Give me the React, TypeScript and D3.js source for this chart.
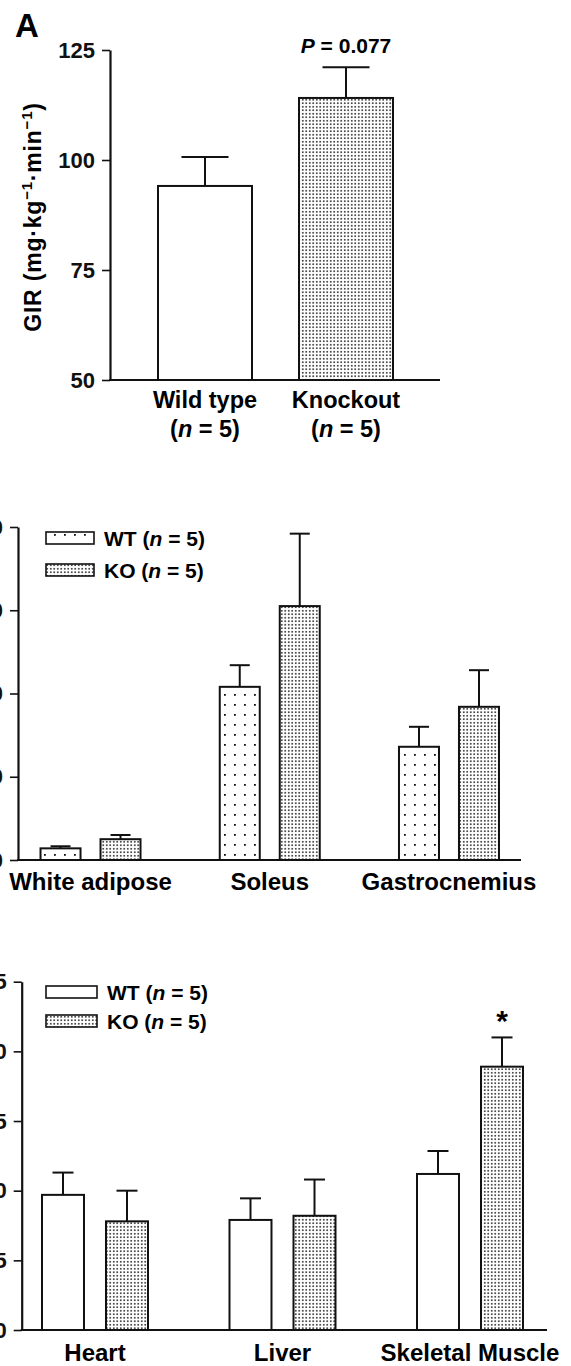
import React, { useEffect, useRef } from 'react';
import * as d3 from 'd3';

// Panel A: glucose infusion rate
const girGroups = ['Wild type', 'Knockout'];
const girMeans = [94.1, 114.1];
const girSem = [6.6, 7.0];
const girTicks = [50, 75, 100, 125];

// Panel B: tissue uptake, dotted WT
const groupsB = ['White adipose', 'Soleus', 'Gastrocnemius'];
const wtB = [1.4, 20.8, 13.6];
const wtBSem = [0.25, 2.6, 2.4];
const koB = [2.5, 30.5, 18.4];
const koBSem = [0.5, 8.7, 4.4];
const ticksB = [0, 10, 20, 30, 40];

// Panel C: organ uptake, plain WT
const groupsC = ['Heart', 'Liver', 'Skeletal Muscle'];
const wtC = [9.7, 7.9, 11.2];
const wtCSem = [1.6, 1.55, 1.65];
const koC = [7.8, 8.2, 18.9];
const koCSem = [2.2, 2.6, 2.1];
const ticksC = [0, 5, 10, 15, 20, 25];

const seriesNames = ['WT', 'KO'];
const FONT = "'Liberation Sans', Arial, Helvetica, sans-serif";

const App = () => {
  const svgRef = useRef(null);

  useEffect(() => {
    if (!svgRef.current) return;
    const svg = d3.select(svgRef.current);
    svg.selectAll('*').remove();
    svg.attr('font-family', FONT).attr('font-weight', 'bold');

    // patterns
    const defs = svg.append('defs');
    const ko = defs.append('pattern').attr('id', 'koDots')
      .attr('patternUnits', 'userSpaceOnUse').attr('width', 3.5).attr('height', 3.5);
    ko.append('rect').attr('width', 3.5).attr('height', 3.5).attr('fill', '#fff');
    ko.append('circle').attr('cx', 1.75).attr('cy', 1.75).attr('r', 0.9).attr('fill', '#111');
    const wt = defs.append('pattern').attr('id', 'wtDots')
      .attr('patternUnits', 'userSpaceOnUse').attr('width', 10).attr('height', 10);
    wt.append('rect').attr('width', 10).attr('height', 10).attr('fill', '#fff');
    wt.append('rect').attr('x', 4).attr('y', 4).attr('width', 1.8).attr('height', 1.8).attr('fill', '#111');

    const styleAxis = (g, fontSize) => {
      g.select('.domain').attr('stroke', '#111').attr('stroke-width', 2.2);
      g.selectAll('.tick line').attr('stroke', '#111').attr('stroke-width', 1.6);
      g.selectAll('.tick text').attr('fill', '#111').style('font-size', `${fontSize}px`)
        .style('font-family', FONT).style('font-weight', 'bold');
    };

    const errorBar = (g, cx, yTop, yErr, capW) => {
      g.append('line').attr('x1', cx).attr('x2', cx).attr('y1', yTop).attr('y2', yErr)
        .attr('stroke', '#111').attr('stroke-width', 2);
      g.append('line').attr('x1', cx - capW / 2).attr('x2', cx + capW / 2).attr('y1', yErr).attr('y2', yErr)
        .attr('stroke', '#111').attr('stroke-width', 2);
    };

    // ---------- Panel A ----------
    {
      const g = svg.append('g');
      const y = d3.scaleLinear().domain([50, 125]).range([380, 50]);
      const x = d3.scaleBand().domain(girGroups).range([111, 440]).padding(1 / 3);

      g.append('text').attr('x', 15).attr('y', 37).style('font-size', '33px').text('A');

      g.append('g').attr('transform', 'translate(110,0)')
        .call(d3.axisLeft(y).tickValues(girTicks).tickSize(8).tickPadding(7).tickSizeOuter(0))
        .call(ax => styleAxis(ax, 22));
      g.append('line').attr('x1', 109).attr('x2', 440).attr('y1', y(50)).attr('y2', y(50))
        .attr('stroke', '#111').attr('stroke-width', 2);

      girGroups.forEach((name, i) => {
        const x0 = x(name);
        const bw = x.bandwidth();
        g.append('rect').attr('x', x0).attr('y', y(girMeans[i])).attr('width', bw)
          .attr('height', y(50) - y(girMeans[i]))
          .attr('fill', i === 0 ? '#fff' : 'url(#koDots)').attr('stroke', '#111').attr('stroke-width', 2);
        errorBar(g, x0 + bw / 2, y(girMeans[i]), y(girMeans[i] + girSem[i]), bw / 2);
        const lbl = g.append('text').attr('x', x0 + bw / 2).attr('text-anchor', 'middle')
          .style('font-size', '23.5px');
        lbl.append('tspan').attr('x', x0 + bw / 2).attr('y', 408).text(name);
        const l2 = lbl.append('tspan').attr('x', x0 + bw / 2).attr('y', 437);
        l2.append('tspan').text('(');
        l2.append('tspan').attr('font-style', 'italic').text('n');
        l2.append('tspan').text(' = 5)');
      });

      const p = g.append('text').attr('x', x('Knockout') + x.bandwidth() / 2).attr('y', 53)
        .attr('text-anchor', 'middle').style('font-size', '21px');
      p.append('tspan').attr('font-style', 'italic').text('P');
      p.append('tspan').text(' = 0.077');

      const t = g.append('text').attr('transform', 'translate(41,217) rotate(-90)')
        .attr('text-anchor', 'middle').style('font-size', '23px').style('letter-spacing', '0.8px');
      t.append('tspan').text('GIR (mg·kg');
      t.append('tspan').attr('dy', -9).style('font-size', '15px').text('−1');
      t.append('tspan').attr('dy', 9).text('·min');
      t.append('tspan').attr('dy', -9).style('font-size', '15px').text('−1');
      t.append('tspan').attr('dy', 9).text(')');
    }

    // ---------- grouped panels ----------
    const grouped = (opts) => {
      const { groups, wt, wtSem, koV, koSem, ticks, yRange, axisX, xRange, xEnd, sub, wtFill, legendY, swatchW, labelY } = opts;
      const g = svg.append('g');
      const y = d3.scaleLinear().domain([0, ticks[ticks.length - 1]]).range(yRange);
      const x0 = d3.scaleBand().domain(groups).range(xRange).padding(0);
      const x1 = d3.scaleBand().domain(seriesNames).range(sub).paddingInner(sub[2]);

      g.append('g').attr('transform', `translate(${axisX},0)`)
        .call(d3.axisLeft(y).tickValues(ticks).tickSize(8).tickPadding(7).tickSizeOuter(0))
        .call(ax => styleAxis(ax, 22));
      g.append('line').attr('x1', axisX - 1).attr('x2', xEnd).attr('y1', y(0)).attr('y2', y(0))
        .attr('stroke', '#111').attr('stroke-width', 2.2);

      groups.forEach((name, i) => {
        const cx = x0(name) + x0.bandwidth() / 2;
        const vals = [[wt[i], wtSem[i]], [koV[i], koSem[i]]];
        seriesNames.forEach((s, j) => {
          const bx = cx + x1(s);
          const bw = x1.bandwidth();
          g.append('rect').attr('x', bx).attr('y', y(vals[j][0])).attr('width', bw)
            .attr('height', y(0) - y(vals[j][0]))
            .attr('fill', j === 0 ? wtFill : 'url(#koDots)').attr('stroke', '#111').attr('stroke-width', 2);
          errorBar(g, bx + bw / 2, y(vals[j][0]), y(vals[j][0] + vals[j][1]), bw / 2);
        });
        g.append('text').attr('x', cx).attr('y', labelY).attr('text-anchor', 'middle')
          .style('font-size', '24px').text(name);
      });

      // legend
      seriesNames.forEach((s, j) => {
        const ly = legendY[j];
        g.append('rect').attr('x', 46).attr('y', ly).attr('width', swatchW).attr('height', 12)
          .attr('fill', j === 0 ? wtFill : 'url(#koDots)').attr('stroke', '#111').attr('stroke-width', 1.6);
        const tx = g.append('text').attr('x', 46 + swatchW + 10).attr('y', ly + 14).style('font-size', '21px');
        tx.append('tspan').text(`${s} (`);
        tx.append('tspan').attr('font-style', 'italic').text('n');
        tx.append('tspan').text(' = 5)');
      });
      return { g, y, x0, x1 };
    };

    grouped({
      groups: groupsB, wt: wtB, wtSem: wtBSem, koV: koB, koSem: koBSem, ticks: ticksB,
      yRange: [860, 527], axisX: 18, xRange: [0.9, 538.6], xEnd: 521,
      sub: [-50, 50, 1 / 3], wtFill: 'url(#wtDots)', legendY: [532, 564], swatchW: 48, labelY: 890,
    });

    const c = grouped({
      groups: groupsC, wt: wtC, wtSem: wtCSem, koV: koC, koSem: koCSem, ticks: ticksC,
      yRange: [1330, 981.7], axisX: 21.7, xRange: [1.25, 563.75], xEnd: 547,
      sub: [-53, 53, 0.344], wtFill: '#fff', legendY: [986, 1015], swatchW: 51, labelY: 1361,
    });

    // significance marker
    const sx = c.x0('Skeletal Muscle') + c.x0.bandwidth() / 2 + c.x1('KO') + c.x1.bandwidth() / 2;
    c.g.append('text').attr('x', sx).attr('y', c.y(koC[2] + koCSem[2]) - 6)
      .attr('text-anchor', 'middle').style('font-size', '30px').text('*');
  }, []);

  return (
    <svg ref={svgRef} width={571} height={1366}
      style={{ position: 'absolute', left: 0, top: 0, background: '#fff' }} />
  );
};

export default App;
